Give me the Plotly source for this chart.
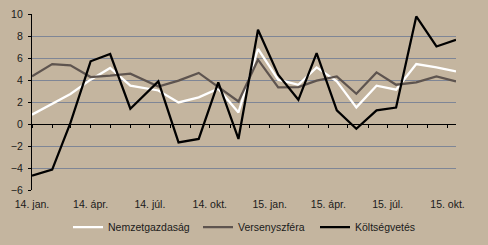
import plotly.graph_objects as go

# Dates of observations (first half-year on month starts, later mid-month)
dates = ["2014-01-01", "2014-02-01", "2014-03-01", "2014-04-01", "2014-05-01", "2014-06-01",
         "2014-07-14", "2014-08-14", "2014-09-14", "2014-10-14", "2014-11-14", "2014-12-14",
         "2015-01-14", "2015-02-14", "2015-03-14", "2015-04-14", "2015-05-14", "2015-06-14",
         "2015-07-14", "2015-08-14", "2015-09-14", "2015-10-14"]

nemzetgazdasag = [0.85, 1.8, 2.73, 4.03, 5.09, 3.48, 3.05, 1.96, 2.42, 3.21, 1.05, 6.82,
                  4.03, 3.57, 5.15, 3.87, 1.51, 3.48, 3.12, 5.45, 5.15, 4.78]
versenyszfera = [4.33, 5.45, 5.33, 4.27, 4.39, 4.57, 3.4, 3.94, 4.64, 3.4, 2.05, 5.85,
                 3.33, 3.36, 3.94, 4.33, 2.75, 4.69, 3.57, 3.78, 4.33, 3.87]
koltsegvetes = [-4.7, -4.15, 0.1, 5.7, 6.36, 1.39, 3.87, -1.67, -1.36, 3.78, -1.36, 8.57,
                4.48, 2.2, 6.45, 1.24, -0.43, 1.24, 1.5, 9.78, 7.05, 7.66]

tick_vals = ["2014-01-01", "2014-04-01", "2014-07-01", "2014-10-01",
             "2015-01-01", "2015-04-01", "2015-07-01", "2015-10-01"]
tick_text = ["14. jan.", "14. ápr.", "14. júl.", "14. okt.",
             "15. jan.", "15. ápr.", "15. júl.", "15. okt."]

bg = "#C4B59F"
grid = "#7F8696"
font = dict(family="Liberation Sans, Arial, sans-serif", size=10.5, color="#1a1a1a")
x_range = ["2014-01-01", "2015-10-14"]

fig = go.Figure()
fig.add_trace(go.Scatter(x=dates, y=nemzetgazdasag, name="Nemzetgazdaság", mode="lines",
                         line=dict(color="#FFFFFF", width=2.25), legend="legend"))
fig.add_trace(go.Scatter(x=dates, y=versenyszfera, name="Versenyszféra", mode="lines",
                         line=dict(color="#5E544F", width=2.25), legend="legend2"))
fig.add_trace(go.Scatter(x=dates, y=koltsegvetes, name="Költségvetés", mode="lines",
                         line=dict(color="#000000", width=2.25), xaxis="x2", legend="legend3"))


def leg(xpos):
    return dict(orientation="h", xref="container", yref="container", x=xpos, y=18 / 245,
                xanchor="left", yanchor="middle", bgcolor="rgba(0,0,0,0)", font=font,
                itemwidth=30)


fig.update_layout(
    width=488, height=245,
    margin=dict(l=32, r=32, t=14, b=55, autoexpand=False),
    paper_bgcolor=bg, plot_bgcolor=bg,
    font=font,
    showlegend=True,
    legend=leg(68 / 488),
    legend2=leg(198 / 488),
    legend3=leg(315 / 488),
    xaxis=dict(type="date", range=x_range, tickvals=tick_vals, ticktext=tick_text,
               showgrid=False, showline=False, ticks="", zeroline=False,
               ticklabelstandoff=6),
    xaxis2=dict(type="date", range=x_range, overlaying="x", matches="x", anchor="free",
                position=0.375, side="bottom", showgrid=False, showline=False,
                ticks="outside", ticklen=3, tickcolor="#000000", tickwidth=1,
                dtick="M1", tick0="2014-01-01", showticklabels=False, zeroline=False),
    yaxis=dict(range=[-6, 10], dtick=2, tick0=0, showgrid=True, gridcolor=grid, gridwidth=1,
               zeroline=True, zerolinecolor="#000000", zerolinewidth=1.3,
               showline=True, linecolor="#000000", linewidth=1.3,
               ticks="outside", ticklen=3, tickcolor="#000000", ticklabelstandoff=3),
)

fig.write_html("out.html")
